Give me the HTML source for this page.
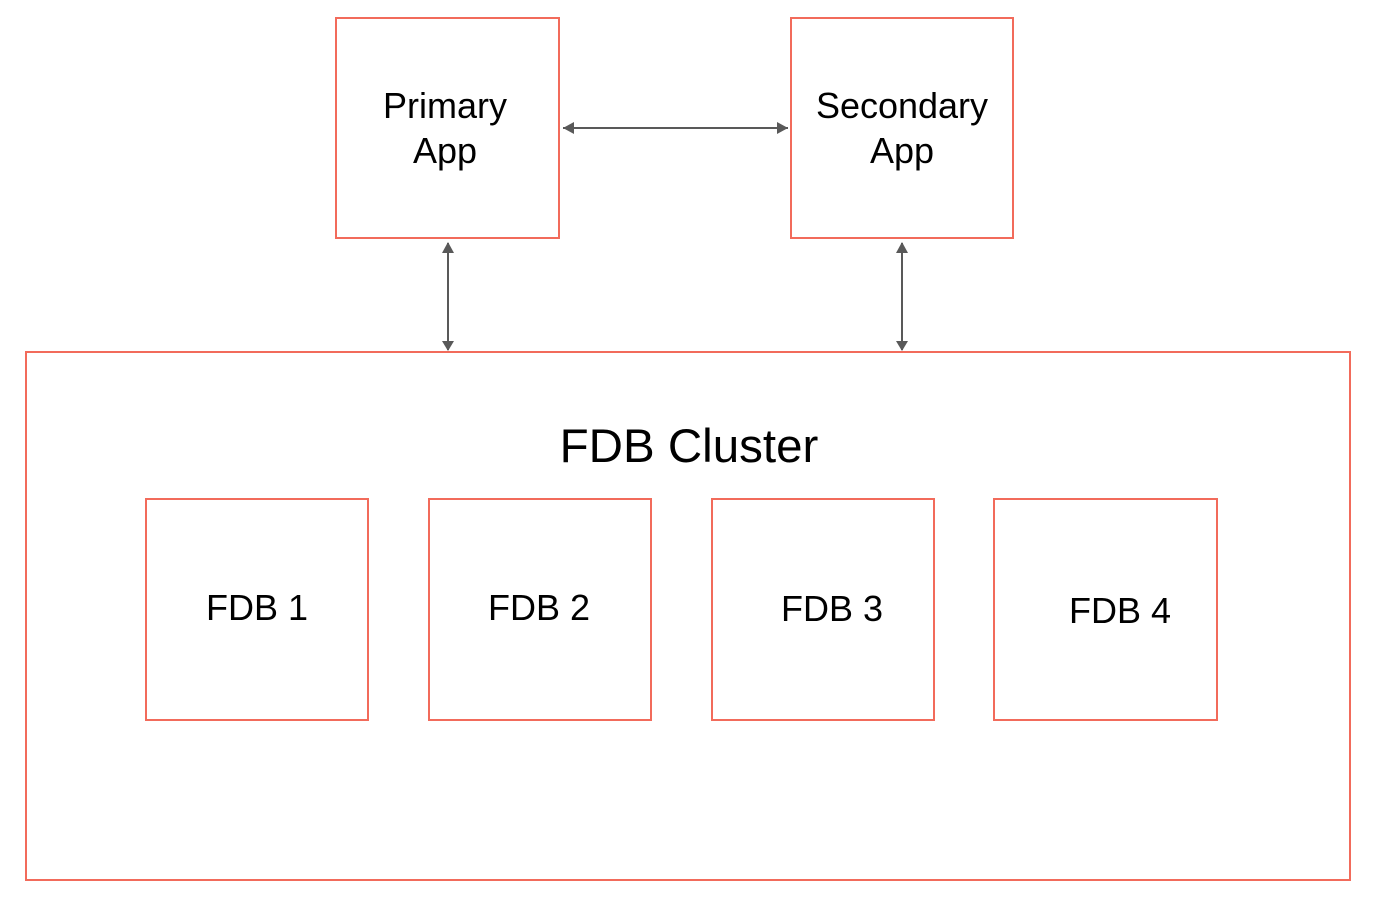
<!DOCTYPE html>
<html><head><style>html,body{margin:0;padding:0;background:#fff;}</style></head>
<body>
<svg width="1374" height="897" viewBox="0 0 1374 897" xmlns="http://www.w3.org/2000/svg" font-family="Liberation Sans, Arial, sans-serif" fill="none">
<g stroke="#f26b5b" stroke-width="2">
<rect x="336" y="18" width="223" height="220"/>
<rect x="791" y="18" width="222" height="220"/>
<rect x="26" y="352" width="1324" height="528"/>
<rect x="146" y="499" width="222" height="221"/>
<rect x="429" y="499" width="222" height="221"/>
<rect x="712" y="499" width="222" height="221"/>
<rect x="994" y="499" width="223" height="221"/>
</g>
<g stroke="#595959" stroke-width="2">
<line x1="563" y1="128" x2="788" y2="128"/>
<line x1="448" y1="243" x2="448" y2="350"/>
<line x1="902" y1="243" x2="902" y2="350"/>
</g>
<g fill="#595959">
<path d="M563,128 L574,122 L574,134 z"/><path d="M788,128 L777,122 L777,134 z"/>
<path d="M448,242 L442,253 L454,253 z"/><path d="M448,351 L442,341 L454,341 z"/>
<path d="M902,242 L896,253 L908,253 z"/><path d="M902,351 L896,341 L908,341 z"/>
</g>
<g fill="#000" font-size="36" text-anchor="middle">
<text x="445" y="118">Primary</text><text x="445" y="163">App</text>
<text x="902" y="118">Secondary</text><text x="902" y="163">App</text>
<text x="257" y="620">FDB 1</text>
<text x="539" y="620">FDB 2</text>
<text x="832" y="621">FDB 3</text>
<text x="1120" y="623">FDB 4</text>
<text x="689" y="462" font-size="47.5">FDB Cluster</text>
</g>
</svg>
</body></html>
